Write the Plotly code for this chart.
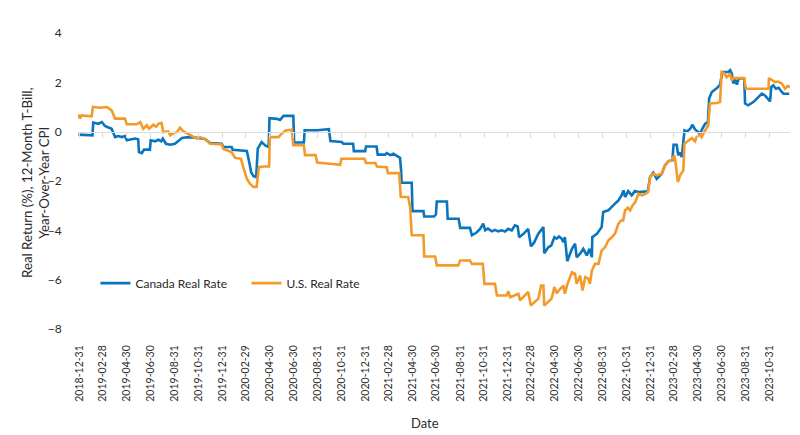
import plotly.graph_objects as go

# ---- data ----
canada_dates = [
    "2018-12-28", "2019-02-02", "2019-02-04", "2019-02-17", "2019-02-26", "2019-03-06", "2019-03-15",
    "2019-03-23", "2019-04-01", "2019-04-09", "2019-04-18", "2019-04-26", "2019-05-01", "2019-05-14",
    "2019-05-22", "2019-05-30", "2019-06-01", "2019-06-08", "2019-06-14", "2019-06-29", "2019-07-01",
    "2019-07-12", "2019-07-21", "2019-07-28", "2019-08-01", "2019-08-09", "2019-08-20", "2019-09-01",
    "2019-09-10", "2019-09-19", "2019-10-01", "2019-10-10", "2019-10-27", "2019-11-17", "2019-11-30",
    "2019-12-30", "2020-01-03", "2020-01-24", "2020-01-27", "2020-03-03", "2020-03-10", "2020-03-14",
    "2020-03-20", "2020-03-27", "2020-03-31", "2020-04-10", "2020-04-19", "2020-04-28", "2020-04-30",
    "2020-05-19", "2020-05-27", "2020-06-05", "2020-06-30", "2020-07-02", "2020-07-27", "2020-07-29",
    "2020-08-30", "2020-09-29", "2020-10-03", "2020-11-01", "2020-11-05", "2020-11-30", "2020-12-02",
    "2020-12-31", "2021-01-02", "2021-01-29", "2021-02-01", "2021-02-20", "2021-02-24", "2021-03-05",
    "2021-03-13", "2021-03-24", "2021-03-30", "2021-04-02", "2021-04-03", "2021-04-29", "2021-05-01",
    "2021-05-29", "2021-05-31", "2021-06-25", "2021-06-30", "2021-07-02", "2021-07-28", "2021-07-30",
    "2021-08-27", "2021-08-31", "2021-09-25", "2021-09-30", "2021-10-11", "2021-10-21", "2021-10-29",
    "2021-11-03", "2021-11-10", "2021-11-20", "2021-11-28", "2021-12-06", "2021-12-15", "2021-12-24",
    "2022-01-01", "2022-01-10", "2022-01-18", "2022-01-25", "2022-01-29", "2022-02-09", "2022-02-17",
    "2022-02-21", "2022-02-28", "2022-03-08", "2022-03-19", "2022-04-01", "2022-04-03", "2022-04-14",
    "2022-04-21", "2022-04-29", "2022-05-05", "2022-05-11", "2022-05-18", "2022-05-22", "2022-05-26",
    "2022-06-01", "2022-06-13", "2022-06-21", "2022-06-25", "2022-07-04", "2022-07-12", "2022-07-21",
    "2022-07-28", "2022-08-03", "2022-08-04", "2022-08-16", "2022-08-28", "2022-09-01", "2022-09-14",
    "2022-09-23", "2022-10-01", "2022-10-10", "2022-10-18", "2022-10-23", "2022-10-27", "2022-11-04",
    "2022-11-13", "2022-11-21", "2022-11-30", "2022-12-24", "2022-12-30", "2023-01-07", "2023-01-16",
    "2023-01-29", "2023-02-06", "2023-02-15", "2023-02-25", "2023-02-28", "2023-03-08", "2023-03-12",
    "2023-03-17", "2023-03-21", "2023-03-28", "2023-04-03", "2023-04-12", "2023-04-17", "2023-04-24",
    "2023-05-03", "2023-05-07", "2023-05-15", "2023-05-20", "2023-05-27", "2023-05-30", "2023-06-06",
    "2023-06-19", "2023-06-27", "2023-07-03", "2023-07-18", "2023-07-23", "2023-07-27", "2023-07-31",
    "2023-08-04", "2023-08-09", "2023-08-13", "2023-08-22", "2023-08-28", "2023-08-30", "2023-09-07",
    "2023-09-20", "2023-10-03", "2023-10-12", "2023-10-20", "2023-11-02", "2023-11-05", "2023-11-10",
    "2023-11-17", "2023-11-24", "2023-12-02", "2023-12-06", "2023-12-21",
]
canada_real_rate = [
    -0.12, -0.15, 0.37, 0.32, 0.39, 0.23, 0.17,
    0.12, -0.22, -0.18, -0.22, -0.18, -0.35, -0.31,
    -0.28, -0.31, -0.83, -0.87, -0.73, -0.73, -0.35,
    -0.39, -0.33, -0.39, -0.28, -0.49, -0.53, -0.49,
    -0.39, -0.26, -0.23, -0.22, -0.25, -0.30, -0.46,
    -0.49, -0.62, -0.62, -0.73, -0.78, -1.30, -1.64,
    -1.80, -1.84, -0.69, -0.42, -0.56, -0.62, 0.55,
    0.52, 0.47, 0.64, 0.64, -0.44, -0.44, 0.06,
    0.06, 0.10, -0.38, -0.42, -0.49, -0.49, -0.79,
    -0.79, -0.60, -0.60, -0.93, -0.93, -0.87, -0.95,
    -0.89, -1.00, -1.06, -1.60, -2.07, -2.07, -3.22,
    -3.22, -3.44, -3.44, -3.36, -2.83, -2.83, -3.53,
    -3.53, -3.90, -3.90, -4.20, -4.10, -3.94, -3.73,
    -4.00, -3.93, -4.04, -3.98, -4.04, -4.00, -4.05,
    -3.94, -4.00, -3.80, -3.84, -4.28, -4.14, -4.00,
    -3.94, -4.65, -4.50, -4.14, -3.87, -4.93, -4.68,
    -4.62, -4.28, -4.34, -4.25, -4.34, -4.48, -4.28,
    -5.25, -4.75, -4.54, -5.09, -4.95, -4.75, -5.02,
    -4.75, -5.09, -4.28, -4.14, -3.87, -3.26, -3.19,
    -3.03, -2.92, -2.79, -2.58, -2.38, -2.65, -2.41,
    -2.58, -2.41, -2.45, -2.42, -1.84, -1.66, -1.91,
    -1.70, -1.37, -1.20, -1.16, -0.53, -0.53, -0.96,
    -0.85, -1.03, 0.05, 0.01, 0.12, 0.28, 0.09,
    -0.02, -0.08, 0.19, 0.32, 0.39, 1.34, 1.61,
    1.77, 1.91, 2.42, 2.42, 2.49, 2.35, 1.95,
    2.12, 1.91, 2.12, 2.17, 2.12, 1.14, 1.07,
    1.20, 1.40, 1.54, 1.47, 1.23, 1.81, 1.88,
    1.74, 1.78, 1.61, 1.54, 1.54,
]

us_dates = [
    "2018-12-28", "2019-01-01", "2019-01-05", "2019-01-31", "2019-02-03", "2019-02-21", "2019-03-11",
    "2019-03-23", "2019-04-01", "2019-04-26", "2019-05-01", "2019-05-26", "2019-06-04", "2019-06-12",
    "2019-06-21", "2019-06-27", "2019-07-08", "2019-07-15", "2019-07-21", "2019-07-29", "2019-08-02",
    "2019-08-15", "2019-08-20", "2019-08-28", "2019-09-06", "2019-09-14", "2019-09-23", "2019-10-01",
    "2019-10-14", "2019-10-27", "2019-11-04", "2019-11-17", "2019-11-30", "2019-12-30", "2020-01-03",
    "2020-01-24", "2020-02-02", "2020-02-17", "2020-02-23", "2020-03-03", "2020-03-11", "2020-03-20",
    "2020-03-28", "2020-04-03", "2020-04-14", "2020-04-29", "2020-05-01", "2020-05-23", "2020-06-01",
    "2020-06-10", "2020-06-26", "2020-06-30", "2020-07-27", "2020-07-30", "2020-08-26", "2020-08-30",
    "2020-10-02", "2020-10-28", "2020-10-31", "2020-12-29", "2021-01-02", "2021-01-26", "2021-01-30",
    "2021-02-24", "2021-02-27", "2021-03-28", "2021-04-01", "2021-04-20", "2021-04-25", "2021-04-29",
    "2021-05-29", "2021-05-31", "2021-06-28", "2021-07-02", "2021-08-26", "2021-08-31", "2021-09-25",
    "2021-09-30", "2021-10-28", "2021-11-01", "2021-11-28", "2021-12-03", "2021-12-28", "2022-01-01",
    "2022-01-06", "2022-01-18", "2022-01-27", "2022-01-31", "2022-02-08", "2022-02-17", "2022-02-21",
    "2022-02-28", "2022-03-11", "2022-03-19", "2022-03-26", "2022-04-01", "2022-04-03", "2022-04-14",
    "2022-04-22", "2022-04-29", "2022-05-05", "2022-05-14", "2022-05-22", "2022-05-26", "2022-06-01",
    "2022-06-13", "2022-06-21", "2022-06-25", "2022-07-04", "2022-07-10", "2022-07-17", "2022-07-25",
    "2022-07-29", "2022-08-03", "2022-08-11", "2022-08-20", "2022-08-28", "2022-09-06", "2022-09-14",
    "2022-09-23", "2022-10-01", "2022-10-10", "2022-10-17", "2022-10-22", "2022-10-27", "2022-11-03",
    "2022-11-09", "2022-11-15", "2022-11-22", "2022-11-30", "2022-12-09", "2022-12-18", "2022-12-25",
    "2022-12-30", "2023-01-07", "2023-01-16", "2023-01-29", "2023-02-06", "2023-02-15", "2023-02-23",
    "2023-03-02", "2023-03-05", "2023-03-11", "2023-03-17", "2023-03-25", "2023-03-28", "2023-04-07",
    "2023-04-16", "2023-04-24", "2023-04-28", "2023-05-07", "2023-05-11", "2023-05-20", "2023-05-28",
    "2023-06-01", "2023-06-19", "2023-06-27", "2023-07-01", "2023-07-07", "2023-07-14", "2023-07-23",
    "2023-07-27", "2023-07-31", "2023-08-28", "2023-09-01", "2023-09-25", "2023-10-07", "2023-10-29",
    "2023-10-30", "2023-11-07", "2023-11-15", "2023-11-22", "2023-12-02", "2023-12-10", "2023-12-17",
    "2023-12-23",
]
us_real_rate = [
    0.70, 0.53, 0.66, 0.62, 1.00, 0.97, 1.00,
    0.86, 0.53, 0.53, 0.30, 0.30, 0.39, 0.12,
    0.26, 0.12, 0.28, 0.20, 0.32, 0.35, -0.02,
    0.01, -0.15, -0.06, -0.02, 0.16, 0.01, -0.06,
    -0.19, -0.28, -0.22, -0.30, -0.49, -0.52, -0.70,
    -0.83, -1.06, -1.10, -1.44, -1.91, -2.11, -2.24,
    -2.24, -1.44, -1.41, -1.41, -0.22, -0.22, -0.07,
    0.05, 0.08, -0.55, -0.55, -0.95, -0.95, -1.25,
    -1.30, -1.34, -1.10, -1.10, -1.27, -1.27, -1.41,
    -1.44, -1.68, -1.68, -2.65, -2.65, -3.06, -4.20,
    -4.20, -5.06, -5.06, -5.42, -5.42, -5.22, -5.22,
    -5.36, -5.36, -6.17, -6.17, -6.64, -6.64, -6.47,
    -6.71, -6.64, -6.57, -6.84, -6.70, -6.57, -6.50,
    -7.05, -6.91, -6.77, -6.24, -6.24, -7.05, -6.91,
    -6.77, -6.30, -6.55, -6.37, -6.24, -6.57, -6.20,
    -5.70, -5.76, -6.17, -5.83, -6.44, -5.90, -5.96,
    -6.17, -5.63, -5.36, -5.36, -4.82, -4.68, -4.41,
    -4.28, -4.14, -3.73, -3.60, -3.60, -3.19, -3.08,
    -3.19, -2.99, -2.86, -2.52, -2.58, -2.52, -2.45,
    -1.84, -1.70, -1.77, -1.70, -1.37, -1.20, -1.16,
    -0.96, -1.23, -2.04, -1.77, -1.57, -0.49, -0.35,
    -0.26, -0.39, -0.22, -0.12, -0.22, 0.05, 0.26,
    1.14, 1.16, 1.20, 2.42, 2.38, 2.21, 2.35,
    2.08, 2.17, 2.17, 1.74, 1.74, 1.72, 1.74,
    2.17, 2.10, 2.01, 2.03, 1.95, 1.74, 1.85,
    1.81,
]

tick_labels = [
    "2018-12-31", "2019-02-28", "2019-04-30", "2019-06-30", "2019-08-31", "2019-10-31",
    "2019-12-31", "2020-02-29", "2020-04-30", "2020-06-30", "2020-08-31", "2020-10-31",
    "2020-12-31", "2021-02-28", "2021-04-30", "2021-06-30", "2021-08-31", "2021-10-31",
    "2021-12-31", "2022-02-28", "2022-04-30", "2022-06-30", "2022-08-31", "2022-10-31",
    "2022-12-31", "2023-02-28", "2023-04-30", "2023-06-30", "2023-08-31", "2023-10-31",
]
y_ticks = [-8, -6, -4, -2, 0, 2, 4]
x_range = ["2018-12-27", "2023-12-23"]
x_title = "Date"
y_title = "Real Return (%), 12-Month T-Bill,<br>Year-Over-Year CPI"

BLUE = "#0a75bd"
ORANGE = "#f49a2b"
FONT = "Lato, 'Open Sans', sans-serif"
TXT = "#2a2a2a"

fig = go.Figure()
fig.add_trace(go.Scatter(x=canada_dates, y=canada_real_rate, mode="lines",
                         name="Canada Real Rate", line=dict(color=BLUE, width=2.6)))
fig.add_trace(go.Scatter(x=us_dates, y=us_real_rate, mode="lines",
                         name="U.S. Real Rate", line=dict(color=ORANGE, width=2.6)))
# empty helper trace so the zero-line axis (x2) is drawn
fig.add_trace(go.Scatter(x=[], y=[], xaxis="x2", yaxis="y", showlegend=False, hoverinfo="skip"))

fig.update_layout(
    width=800, height=435,
    margin=dict(l=78, r=10, t=33, b=106, autoexpand=False),
    paper_bgcolor="white", plot_bgcolor="white",
    font=dict(family=FONT, size=12, color=TXT),
    showlegend=True,
    legend=dict(orientation="h", x=0.0245, y=0.155, xanchor="left", yanchor="middle",
                bgcolor="rgba(0,0,0,0)", font=dict(family=FONT, size=12, color=TXT),
                entrywidth=106, entrywidthmode="pixels", traceorder="normal"),
    xaxis=dict(
        type="date", range=x_range, automargin=False,
        tickmode="array", tickvals=tick_labels, ticktext=tick_labels,
        tickangle=-90, tickfont=dict(family=FONT, size=10.5, color=TXT),
        ticks="outside", ticklen=11, tickcolor="rgba(0,0,0,0)",
        showgrid=False, zeroline=False, showline=False,
    ),
    xaxis2=dict(
        type="date", overlaying="x", matches="x", anchor="free", position=8 / 12,
        tickmode="array", tickvals=tick_labels, showticklabels=False,
        ticks="outside", ticklen=5, tickcolor="#dcdcdc", tickwidth=1,
        showline=True, linecolor="#dcdcdc", linewidth=1,
        showgrid=False, zeroline=False, automargin=False,
    ),
    yaxis=dict(
        range=[-8, 4], tickmode="array", tickvals=y_ticks, automargin=False,
        tickfont=dict(family=FONT, size=12, color=TXT),
        ticks="outside", ticklen=13, tickcolor="rgba(0,0,0,0)",
        showgrid=False, zeroline=False, showline=False,
    ),
    annotations=[
        dict(text=x_title, xref="paper", yref="paper", x=0.487, y=-0.318,
             xanchor="center", yanchor="middle", showarrow=False,
             font=dict(family=FONT, size=13, color=TXT)),
        dict(text=y_title, xref="paper", yref="paper", x=-0.0605, y=0.493,
             xanchor="center", yanchor="middle", showarrow=False, textangle=-90,
             font=dict(family=FONT, size=13.3, color=TXT)),
    ],
)

fig.write_html("out.html",
               config={"displayModeBar": False},
               post_script="document.body.style.margin='0';document.body.style.padding='0';")
